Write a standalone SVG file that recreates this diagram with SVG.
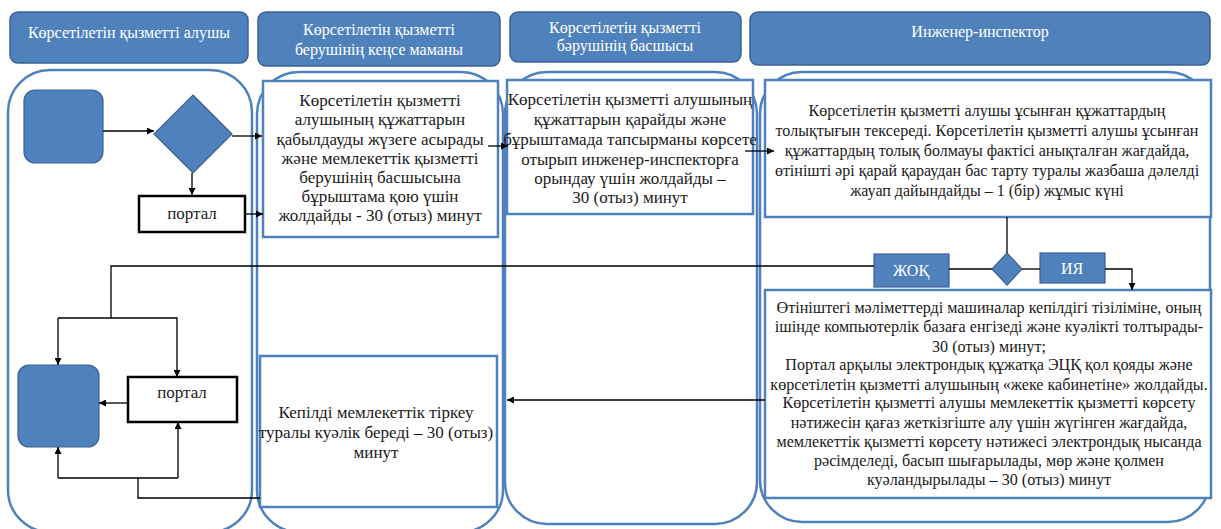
<svg xmlns="http://www.w3.org/2000/svg" width="1221" height="529" viewBox="0 0 1221 529" font-family="Liberation Serif, Times New Roman, serif">
<style>
.hdr{fill:#4F81BD;stroke:#3A6291;stroke-width:1.5}
.hdt{fill:#ffffff;font-size:16px;text-anchor:middle}
.lane{fill:none;stroke:#4F81BD;stroke-width:2.5}
.box{fill:#ffffff;stroke:#4F81BD;stroke-width:2.5}
.blk{fill:#ffffff;stroke:#000000;stroke-width:2.5}
.fill{fill:#4F81BD;stroke:#3A6291;stroke-width:1.2}
.t{fill:#1a1a1a;font-size:17px;text-anchor:middle}
.t15{font-size:16px}
.t14{font-size:16.1px}
.lbl{fill:#ffffff;font-size:16px;text-anchor:middle}
.c{fill:none;stroke:#000000;stroke-width:1.3}
</style>
<defs>
<marker id="ah" viewBox="0 0 10 10" refX="10" refY="5" markerWidth="7" markerHeight="7" markerUnits="userSpaceOnUse" orient="auto">
<path d="M0,0 L10,5 L0,10 z" fill="#000000"/>
</marker>
</defs>

<g id="lanes">
<rect class="lane" x="8" y="70" width="244" height="462" rx="42"/>
<rect class="lane" x="257" y="72" width="246" height="460" rx="42"/>
<rect class="lane" x="505" y="72" width="252" height="452" rx="42"/>
<rect class="lane" x="760" y="72" width="450" height="450" rx="42"/>
</g>

<g id="header1">
<rect class="hdr" x="10" y="12" width="238" height="51" rx="8"/>
<text class="hdt" x="129" y="38">Көрсетілетін қызметті алушы</text>
</g>
<g id="header2">
<rect class="hdr" x="258" y="12" width="242" height="54" rx="8"/>
<text class="hdt" x="379" y="35">Көрсетілетін қызметті</text>
<text class="hdt" x="379" y="55">берушінің кеңсе маманы</text>
</g>
<g id="header3">
<rect class="hdr" x="510" y="12" width="231" height="50" rx="8"/>
<text class="hdt" x="625" y="33">Көрсетілетін қызметті</text>
<text class="hdt" x="625" y="51">бәрушінің басшысы</text>
</g>
<g id="header4">
<rect class="hdr" x="750" y="12" width="460" height="53" rx="8"/>
<text class="hdt" x="980" y="37">Инженер-инспектор</text>
</g>

<g id="start">
<rect class="fill" x="24" y="90" width="79" height="73" rx="11"/>
</g>
<g id="decision1">
<polygon class="fill" points="193,95 232,134 193,173 154,134"/>
</g>
<g id="portal1">
<rect class="blk" x="139" y="196" width="106" height="36"/>
<text class="t" x="192" y="219">портал</text>
</g>

<g id="box2">
<rect class="box" x="263" y="81" width="235" height="156"/>
<text class="t" x="380" y="106">Көрсетілетін қызметті</text>
<text class="t" x="380" y="125">алушының құжаттарын</text>
<text class="t" x="380" y="145">қабылдауды жүзеге асырады</text>
<text class="t" x="380" y="164">және мемлекеттік қызметті</text>
<text class="t" x="380" y="183">берушінің басшысына</text>
<text class="t" x="380" y="202">бұрыштама қою үшін</text>
<text class="t" x="380" y="221">жолдайды - 30 (отыз) минут</text>
</g>

<g id="box3">
<rect class="box" x="507" y="80" width="246" height="134"/>
<text class="t" x="630" y="105">Көрсетілетін қызметті алушының</text>
<text class="t" x="630" y="125">құжаттарын қарайды және</text>
<text class="t" x="630" y="145">бұрыштамада тапсырманы көрсете</text>
<text class="t" x="630" y="165">отырып инженер-инспекторға</text>
<text class="t" x="630" y="184">орындау үшін жолдайды –</text>
<text class="t" x="630" y="203">30 (отыз) минут</text>
</g>

<g id="box4">
<rect class="box" x="765" y="80" width="446" height="137"/>
<text class="t t15" x="987" y="116">Көрсетілетін қызметті алушы ұсынған құжаттардың</text>
<text class="t t15" x="987" y="136">толықтығын тексереді. Көрсетілетін қызметті алушы ұсынған</text>
<text class="t t15" x="987" y="156">құжаттардың толық болмауы фактісі анықталған жағдайда,</text>
<text class="t t15" x="987" y="176">өтінішті әрі қарай қараудан бас тарту туралы жазбаша дәлелді</text>
<text class="t t15" x="987" y="196">жауап дайындайды – 1 (бір) жұмыс күні</text>
</g>

<g id="decision2">
<polygon class="fill" points="1007,253 1022,269 1007,285 992,269"/>
</g>
<g id="no">
<rect class="fill" x="874" y="254" width="75" height="33"/>
<text class="lbl" x="911" y="276">ЖОҚ</text>
</g>
<g id="yes">
<rect class="fill" x="1040" y="253" width="65" height="30"/>
<text class="lbl" x="1072" y="274">ИЯ</text>
</g>

<g id="box5">
<rect class="box" x="765" y="290" width="446" height="208"/>
<text class="t t14" x="989" y="313">Өтініштегі мәліметтерді машиналар кепілдігі тізіліміне, оның</text>
<text class="t t14" x="989" y="332">ішінде компьютерлік базаға енгізеді және куәлікті толтырады-</text>
<text class="t t14" x="989" y="352">30 (отыз) минут;</text>
<text class="t t14" x="989" y="370">Портал арқылы электрондық құжатқа ЭЦҚ қол қояды және</text>
<text class="t t14" x="989" y="390">көрсетілетін қызметті алушының «жеке кабинетіне» жолдайды.</text>
<text class="t t14" x="989" y="408">Көрсетілетін қызметті алушы мемлекеттік қызметті көрсету</text>
<text class="t t14" x="989" y="428">нәтижесін қағаз жеткізгіште алу үшін жүгінген жағдайда,</text>
<text class="t t14" x="989" y="447">мемлекеттік қызметті көрсету нәтижесі электрондық нысанда</text>
<text class="t t14" x="989" y="466">рәсімделеді, басып шығарылады, мөр және қолмен</text>
<text class="t t14" x="989" y="485">куәландырылады – 30 (отыз) минут</text>
</g>

<g id="box6">
<rect class="box" x="260" y="356" width="237" height="151"/>
<text class="t" x="376" y="418">Кепілді мемлекеттік тіркеу</text>
<text class="t" x="376" y="438">туралы куәлік береді – 30 (отыз)</text>
<text class="t" x="376" y="458">минут</text>
</g>

<g id="end">
<rect class="fill" x="18" y="365" width="81" height="82" rx="11"/>
</g>
<g id="portal2">
<rect class="blk" x="128" y="377" width="109" height="45"/>
<text class="t" x="182" y="398">портал</text>
</g>

<g id="connectors">
<line class="c" x1="103" y1="131" x2="154" y2="131" marker-end="url(#ah)"/>
<line class="c" x1="232" y1="136" x2="262" y2="136" marker-end="url(#ah)"/>
<line class="c" x1="192" y1="173" x2="192" y2="195" marker-end="url(#ah)"/>
<line class="c" x1="245" y1="214" x2="263" y2="214" marker-end="url(#ah)"/>
<line class="c" x1="488" y1="146" x2="508" y2="146" marker-end="url(#ah)"/>
<line class="c" x1="745" y1="151" x2="774" y2="151" marker-end="url(#ah)"/>
<line class="c" x1="1007" y1="217" x2="1007" y2="253"/>
<line class="c" x1="992" y1="269" x2="949" y2="269"/>
<line class="c" x1="1022" y1="269" x2="1040" y2="269"/>
<polyline class="c" points="1105,269 1132,269 1132,290" marker-end="url(#ah)"/>
<polyline class="c" points="874,266 111,266 111,318"/>
<polyline class="c" points="58,318 177,318 177,377" marker-end="url(#ah)"/>
<line class="c" x1="58" y1="318" x2="58" y2="365" marker-end="url(#ah)"/>
<line class="c" x1="128" y1="403" x2="99" y2="403" marker-end="url(#ah)"/>
<polyline class="c" points="260,498 138,498 138,478"/>
<line class="c" x1="58" y1="478" x2="178" y2="478"/>
<line class="c" x1="58" y1="478" x2="58" y2="447" marker-end="url(#ah)"/>
<line class="c" x1="178" y1="478" x2="178" y2="422" marker-end="url(#ah)"/>
<line class="c" x1="765" y1="400" x2="507" y2="400" marker-end="url(#ah)"/>
</g>
</svg>
